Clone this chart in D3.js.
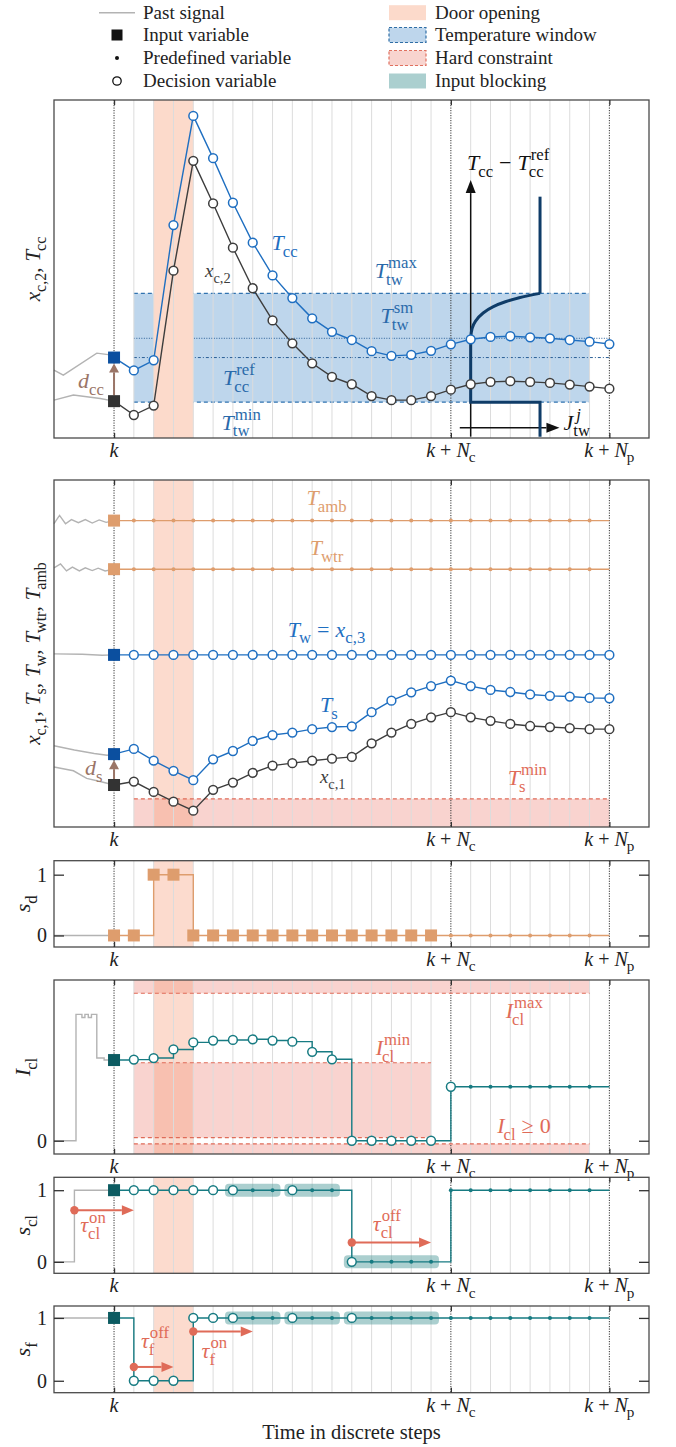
<!DOCTYPE html>
<html><head><meta charset="utf-8">
<script src="https://cdn.jsdelivr.net/npm/d3@7"></script>
<style>
body{margin:0;background:#fff;}
svg{display:block;}
text{font-family:"Liberation Serif","DejaVu Serif",serif;}
</style></head><body>
<svg id="c" width="676" height="1447"></svg>
<script>
// ================= DATA =================
const steps = d3.range(0, 26);
const xTickSteps = [0, 17, 25];           // k, k+Nc, k+Np
const gridSteps = d3.range(1, 25).filter(s => s !== 17);
const doorSteps = [2, 4];

// panel 1 : x_c2 , T_cc
const tccValues = [23.8,20.0,23.0,63.0,95.3,82.8,69.6,57.8,48.1,41.4,35.4,31.4,29.0,25.7,24.3,24.6,25.8,27.7,29.2,29.9,30.1,29.8,29.5,29.0,28.5,27.8];
const xc2Values = [10.9,6.8,9.6,49.5,82.0,69.4,56.3,44.3,34.8,28.0,22.1,18.1,15.9,12.4,11.2,11.2,12.4,14.3,15.9,16.6,16.8,16.6,16.3,15.8,15.2,14.6];
const tccPast = [[-3.03,20.1],[-2.56,18.6],[-0.87,25.1],[-0.2,24.6],[0,23.8]];
const xc2Past = [[-3.03,11.2],[-2.05,12.7],[-0.7,11.7],[0,10.9]];
const twMax = 42.8, twMin = 10.6, twSm = 29.5, ccRef = 23.8;
const windowSteps = [1, 24];
const refLineSteps = [1, 25];
// penalty inset J_tw (J in [0,1], value in panel-1 units)
const jtwLow = [[1,0.4],[1,10.6],[0,10.6],[0,29.5]];
const jtwCurve = [[0,29.5],[0.02,32.4],[0.07,34.6],[0.18,37.0],[0.32,38.8],[0.5,40.3],[0.7,41.5],[1,42.8]];
const jtwHigh = [[1,42.8],[1,71.4]];

// panel 2
const tambValue = 88.3, twtrValue = 74.3, twValue = 49.6;
const tsValues  = [21.0,22.5,19.1,16.2,13.5,19.5,21.9,24.8,26.5,27.2,28.2,28.8,29.0,33.1,36.4,38.8,40.6,42.2,40.6,39.5,38.9,38.2,37.8,37.6,37.2,37.1];
const xc1Values = [12.1,13.1,10.1,7.3,4.7,10.7,12.8,15.6,17.7,18.4,19.1,19.7,20.2,24.1,27.2,29.7,31.6,33.1,31.6,30.6,29.7,29.1,28.8,28.5,28.2,28.2];
const tambPast = [[-3.03,87.4],[-2.75,89.8],[-2.45,87.4],[-2.15,88.6],[-1.8,87.7],[-1.45,88.6],[-1.1,87.6],[-0.75,88.5],[-0.4,87.8],[0,88.3]];
const twtrPast = [[-3.03,74.7],[-2.7,75.8],[-2.4,73.8],[-2.1,74.9],[-1.75,73.8],[-1.45,74.7],[-1.1,73.9],[-0.8,74.6],[-0.45,73.8],[0,74.3]];
const twPast = [[-3.03,49.9],[-1.6,49.8],[-0.6,49.5],[0,49.6]];
const tsPast = [[-3.03,23.4],[-2.0,22.2],[-1.0,21.2],[-0.35,20.7],[0,21.0]];
const xc1Past = [[-3.03,17.3],[-2.05,16.2],[-1.38,14.0],[-0.7,13.1],[0,12.1]];
const tsMin = 8.1;
const tsMinSteps = [1, 25];

// panel 3 : s_d
const sdValues = [0,0,1,1,0,0,0,0,0,0,0,0,0,0,0,0,0,0,0,0,0,0,0,0,0,0];
const sdPast = [[-3.03,0],[0,0]];

// panel 4 : I_cl
const iclValues = [5.17,5.2,5.3,5.85,6.3,6.42,6.46,6.5,6.42,6.35,5.7,5.22,0,0,0,0,0,3.46,3.46,3.46,3.46,3.46,3.46,3.46,3.46,3.46];
const iclPast = [[-3.03,0],[-1.92,8.1],[-1.62,7.9],[-1.47,8.1],[-1.3,7.9],[-1.14,8.1],[-0.87,5.3],[-0.5,5.17],[0,5.17]];
const iclMax = 9.45, iclMin = 5.0, iclGap = 0.2;
const iclMaxSteps = [1, 24], iclMinSteps = [1, 16];

// panel 5 : s_cl
const sclValues = [1,1,1,1,1,1,1,1,1,1,1,1,0,0,0,0,0,1,1,1,1,1,1,1,1,1];
const sclPast = [[-3.03,0],[-2,1],[0,1]];
const sclBlocks = [[6,8,1],[9,11,1],[12,16,0]];
const sclArrows = [[-2,1,0.72],[12,16,0.27]];

// panel 6 : s_f
const sfValues = [1,0,0,0,1,1,1,1,1,1,1,1,1,1,1,1,1,1,1,1,1,1,1,1,1,1];
const sfPast = [[-3.03,1],[0,1]];
const sfBlocks = [[6,8,1],[9,11,1],[12,16,1]];
const sfArrows = [[1,3,0.22],[4,7,0.785]];

// marker kinds per step: S input square, C decision circle, D predefined dot, - none
const mkDecision = "S" + "C".repeat(25);
const mkPredef   = "S" + "D".repeat(24) + "-";
const mkSd       = "S".repeat(17) + "D".repeat(8) + "-";
const mkIcl      = "S" + "C".repeat(17) + "D".repeat(7) + "-";
const mkSwitch   = "SCCCCCCDDCDDCDDDDDDDDDDDD-";

// ================= STYLE =================
const C = {
  blue:'#1f6fc1', blueSq:'#0b4f9f', dark:'#3d3d3d', darkSq:'#333333',
  orange:'#de9d6d', teal:'#177b82', tealSq:'#0c5b61', red:'#df6b58',
  brown:'#9a7567', gray:'#b3b3b3', navy:'#0f3c68', frame:'#4a4a4a', lblue:'#2a6aaa'
};
const svg = d3.select('#c');
const x = d3.scaleLinear().domain([-3.03, 27]).range([54, 649]);

const panelDefs = [
  {top:100,   bottom:438,    dom:[0,100]},
  {top:480,   bottom:827,    dom:[0,100]},
  {top:860.7, bottom:947,    dom:[-0.19,1.23]},
  {top:980,   bottom:1154,   dom:[-0.85,10.3]},
  {top:1177.3,bottom:1273.3, dom:[-0.16,1.18]},
  {top:1306,  bottom:1392.7, dom:[-0.19,1.19]}
];
const P = panelDefs.map(d => Object.assign({}, d, {y: d3.scaleLinear().domain(d.dom).range([d.bottom, d.top])}));

// ---------- math text helper ----------
function mtext(parent, px, py, tokens, o = {}) {
  const size = o.size || 22, color = o.color || '#222';
  const subDy = o.subDy !== undefined ? o.subDy : 0.3;
  const g = parent.append('g');
  const inner = g.append('g');
  let cx = 0;
  for (let tk of tokens) {
    if (typeof tk === 'string') tk = {t: tk};
    if (tk.t !== undefined) {
      const e = inner.append('text').attr('x', cx).attr('y', 0).attr('font-size', size)
        .attr('fill', color).attr('font-style', tk.i ? 'italic' : 'normal').text(tk.t);
      cx += e.node().getComputedTextLength() + (tk.k || 0);
    } else {
      let w = 0; const ss = size * 0.76;
      if (tk.p !== undefined) {
        const e = inner.append('text').attr('x', cx + (tk.pk || 0)).attr('y', -size * 0.44)
          .attr('font-size', ss).attr('fill', color).attr('font-style', tk.pi ? 'italic' : 'normal').text(tk.p);
        w = Math.max(w, e.node().getComputedTextLength() + (tk.pk || 0));
      }
      if (tk.b !== undefined) {
        const e = inner.append('text').attr('x', cx).attr('y', size * subDy)
          .attr('font-size', ss).attr('fill', color).text(tk.b);
        w = Math.max(w, e.node().getComputedTextLength());
      }
      cx += w + (tk.k || 0);
    }
  }
  let dx = 0;
  if (o.anchor === 'middle') dx = -cx / 2; else if (o.anchor === 'end') dx = -cx;
  inner.attr('transform', `translate(${dx},0)`);
  g.attr('transform', `translate(${px},${py})` + (o.rotate ? ` rotate(${o.rotate})` : ''));
  return g;
}

// ---------- drawing helpers ----------
function lineAt(g, p, v, s0, s1, color, dash, w) {
  g.append('line').attr('x1', x(s0)).attr('x2', x(s1)).attr('y1', p.y(v)).attr('y2', p.y(v))
    .attr('stroke', color).attr('stroke-width', w || 1.1).attr('stroke-dasharray', dash);
}
function rectBetween(g, p, s0, s1, v0, v1, fill) {
  const ya = p.y(v0), yb = p.y(v1);
  g.append('rect').attr('x', x(s0)).attr('width', x(s1) - x(s0))
    .attr('y', Math.min(ya, yb)).attr('height', Math.abs(yb - ya)).attr('fill', fill);
}
function doorBand(g, p, fill) {
  rectBetween(g, p, doorSteps[0], doorSteps[1], p.dom[0], p.dom[1], fill);
}
function gridAndMarkers(g, p) {
  g.selectAll('line.grid').data(gridSteps).join('line').attr('class', 'grid')
    .attr('x1', d => x(d)).attr('x2', d => x(d)).attr('y1', p.top).attr('y2', p.bottom)
    .attr('stroke', '#dcdcdc').attr('stroke-width', 1);
  g.selectAll('line.mk').data(xTickSteps).join('line').attr('class', 'mk')
    .attr('x1', d => x(d)).attr('x2', d => x(d)).attr('y1', p.top).attr('y2', p.bottom)
    .attr('stroke', '#333').attr('stroke-width', 1).attr('stroke-dasharray', '1.2,1.3');
}
function pastLine(g, p, pts, curve) {
  g.append('path').datum(pts)
    .attr('d', d3.line().x(d => x(d[0])).y(d => p.y(d[1])).curve(curve || d3.curveLinear))
    .attr('fill', 'none').attr('stroke', C.gray).attr('stroke-width', 1.4);
}
function series(g, p, vals, kinds, color, sqColor, curve, lw) {
  const pts = vals.map((v, i) => ({i, v, k: kinds[i]}));
  g.append('path').datum(pts)
    .attr('d', d3.line().x(d => x(d.i)).y(d => p.y(d.v)).curve(curve || d3.curveLinear))
    .attr('fill', 'none').attr('stroke', color).attr('stroke-width', lw || 1.4);
  g.selectAll(null).data(pts.filter(d => d.k === 'D')).join('circle')
    .attr('cx', d => x(d.i)).attr('cy', d => p.y(d.v)).attr('r', 2).attr('fill', color);
  g.selectAll(null).data(pts.filter(d => d.k === 'C')).join('circle')
    .attr('cx', d => x(d.i)).attr('cy', d => p.y(d.v)).attr('r', 4.4)
    .attr('fill', '#fff').attr('stroke', color).attr('stroke-width', 1.5);
  g.selectAll(null).data(pts.filter(d => d.k === 'S')).join('rect')
    .attr('x', d => x(d.i) - 6).attr('y', d => p.y(d.v) - 6).attr('width', 12).attr('height', 12)
    .attr('fill', sqColor);
}
function frameAndTicks(g, p, yTicks) {
  g.append('rect').attr('x', x.range()[0]).attr('y', p.top)
    .attr('width', x.range()[1] - x.range()[0]).attr('height', p.bottom - p.top)
    .attr('fill', 'none').attr('stroke', C.frame).attr('stroke-width', 1.3);
  const ab = g.append('g').attr('transform', `translate(0,${p.bottom})`)
    .call(d3.axisBottom(x).tickValues(xTickSteps).tickSize(-5).tickFormat(''));
  const at = g.append('g').attr('transform', `translate(0,${p.top})`)
    .call(d3.axisTop(x).tickValues(xTickSteps).tickSize(-5).tickFormat(''));
  [ab, at].forEach(a => { a.select('.domain').remove(); a.selectAll('line').attr('stroke', '#333').attr('stroke-width', 1.3); });
  if (yTicks) {
    const al = g.append('g').attr('transform', `translate(${x.range()[0]},0)`)
      .call(d3.axisLeft(p.y).tickValues(yTicks).tickSize(-10).tickPadding(7).tickFormat(d3.format('d')));
    const ar = g.append('g').attr('transform', `translate(${x.range()[1]},0)`)
      .call(d3.axisRight(p.y).tickValues(yTicks).tickSize(-10).tickFormat(''));
    [al, ar].forEach(a => { a.select('.domain').remove(); a.selectAll('line').attr('stroke', '#333').attr('stroke-width', 1.3); });
    al.selectAll('text').attr('font-size', 20).attr('fill', '#222')
      .attr('font-family', '"Liberation Serif","DejaVu Serif",serif');
  }
  const by = p.bottom + 19;
  const o = {size:20, anchor:'middle', subDy:0.26};
  mtext(g, x(xTickSteps[0]), by, [{t:'k', i:1}], o);
  mtext(g, x(xTickSteps[1]), by, [{t:'k', i:1, k:5}, {t:'+', k:5}, {t:'N', i:1, k:-1}, {b:'c'}], o);
  mtext(g, x(xTickSteps[2]), by, [{t:'k', i:1, k:5}, {t:'+', k:5}, {t:'N', i:1, k:-1}, {b:'p'}], o);
}
function arrowV(g, xx, y0, y1, color, w, hl, hw) {
  const dir = Math.sign(y1 - y0);
  g.append('line').attr('x1', xx).attr('x2', xx).attr('y1', y0).attr('y2', y1 - dir * hl)
    .attr('stroke', color).attr('stroke-width', w);
  g.append('path').attr('d', `M${xx},${y1} L${xx - hw},${y1 - dir * hl} L${xx + hw},${y1 - dir * hl} Z`).attr('fill', color);
}
function arrowH(g, x0, x1, yy, color, w, hl, hw) {
  g.append('line').attr('x1', x0).attr('x2', x1 - hl).attr('y1', yy).attr('y2', yy)
    .attr('stroke', color).attr('stroke-width', w);
  g.append('path').attr('d', `M${x1},${yy} L${x1 - hl},${yy - hw} L${x1 - hl},${yy + hw} Z`).attr('fill', color);
}
function blocks(g, p, bl) {
  g.selectAll(null).data(bl).join('rect')
    .attr('x', d => x(d[0] - 0.4)).attr('width', d => x(d[1] + 0.4) - x(d[0] - 0.4))
    .attr('y', d => p.y(d[2]) - 6.5).attr('height', 13).attr('rx', 4)
    .attr('fill', 'rgba(88,160,160,0.5)');
}
function tauArrows(g, p, arr) {
  arr.forEach(a => {
    arrowH(g, x(a[0]), x(a[1]), p.y(a[2]), C.red, 2, 12, 5);
    g.append('circle').attr('cx', x(a[0])).attr('cy', p.y(a[2])).attr('r', 4.2).attr('fill', C.red);
  });
}

const DOOR = 'rgba(246,160,125,0.38)';
const PINK = 'rgba(235,110,95,0.3)';

// ================= LEGEND =================
const leg = svg.append('g');
const legY = [12.7, 35, 58, 81];
leg.append('line').attr('x1', 99).attr('x2', 135).attr('y1', legY[0]).attr('y2', legY[0]).attr('stroke', C.gray).attr('stroke-width', 1.5);
leg.append('rect').attr('x', 111.5).attr('y', legY[1] - 5.5).attr('width', 11).attr('height', 11).attr('fill', '#111');
leg.append('circle').attr('cx', 117).attr('cy', legY[2]).attr('r', 2).attr('fill', '#111');
leg.append('circle').attr('cx', 117).attr('cy', legY[3]).attr('r', 4.2).attr('fill', '#fff').attr('stroke', '#111').attr('stroke-width', 1.3);
const legLeft = ['Past signal', 'Input variable', 'Predefined variable', 'Decision variable'];
const legRight = ['Door opening', 'Temperature window', 'Hard constraint', 'Input blocking'];
legLeft.forEach((t, i) => leg.append('text').attr('x', 143).attr('y', legY[i] + 6).attr('font-size', 19).attr('fill', '#222').text(t));
legRight.forEach((t, i) => leg.append('text').attr('x', 435).attr('y', legY[i] + 6).attr('font-size', 19).attr('fill', '#222').text(t));
const sw = [
  {fill:'#fcdacb', stroke:null},
  {fill:'#bed6ec', stroke:'#2f6ea6'},
  {fill:'#f8d4cf', stroke:'#e0705f'},
  {fill:'#abcfcf', stroke:null}
];
sw.forEach((s, i) => {
  const r = leg.append('rect').attr('x', 389).attr('y', legY[i] - 7.5).attr('width', 37).attr('height', 15).attr('fill', s.fill);
  if (s.stroke) r.attr('stroke', s.stroke).attr('stroke-width', 1.2).attr('stroke-dasharray', '3,2');
});

// ================= PANEL 1 =================
{
  const p = P[0], g = svg.append('g');
  rectBetween(g, p, windowSteps[0], windowSteps[1], twMin, twMax, 'rgba(120,170,215,0.48)');
  lineAt(g, p, twMax, windowSteps[0], windowSteps[1], '#3173b0', '4,3');
  lineAt(g, p, twMin, windowSteps[0], windowSteps[1], '#3173b0', '4,3');
  lineAt(g, p, twSm, refLineSteps[0], refLineSteps[1], '#2a5f96', '1,1.5', 1);
  lineAt(g, p, ccRef, refLineSteps[0], refLineSteps[1], '#2a5f96', '3,2,1,2', 1);
  doorBand(g, p, '#fcdacb');
  gridAndMarkers(g, p);
  // inset penalty
  const jx = d3.scaleLinear().domain([0, 1]).range([x(18), x(21.5)]);
  const ln = d3.line().x(d => jx(d[0])).y(d => p.y(d[1]));
  arrowV(g, jx(0), p.y(0.4), p.y(76.3), '#111', 1.5, 13, 5);
  arrowH(g, jx(-0.157), jx(1.28), p.y(3.05), '#111', 1.5, 13, 5);
  [jtwLow, jtwHigh].forEach(d => g.append('path').datum(d).attr('d', ln).attr('fill', 'none').attr('stroke', C.navy).attr('stroke-width', 3));
  g.append('path').datum(jtwCurve).attr('d', ln.curve(d3.curveMonotoneY)).attr('fill', 'none').attr('stroke', C.navy).attr('stroke-width', 3);
  mtext(g, jx(0.54), p.y(79.3), [{t:'T', i:1, k:-1}, {b:'cc', k:6}, {t:'−', k:6}, {t:'T', i:1, k:-1}, {b:'cc', p:'ref', pk:2}], {size:22, color:'#111', anchor:'middle'});
  mtext(g, jx(1.34), p.y(2.4), [{t:'J', i:1}, {b:'tw', p:'j', pi:1, pk:3}], {size:22, color:'#111'});
  // past + series
  pastLine(g, p, tccPast); pastLine(g, p, xc2Past);
  series(g, p, xc2Values, mkDecision, C.dark, C.darkSq);
  series(g, p, tccValues, mkDecision, C.blue, C.blueSq);
  arrowV(g, x(0), p.y(xc2Values[0]) - 6, p.y(tccValues[0]) + 6, C.brown, 2, 9, 5);
  // labels
  mtext(g, x(7.95), p.y(55.6), [{t:'T', i:1, k:-1}, {b:'cc'}], {color:C.blue});
  mtext(g, x(4.59), p.y(47.6), [{t:'x', i:1}, {b:'c,2'}], {color:C.dark, size:19});
  mtext(g, x(13.16), p.y(47.3), [{t:'T', i:1, k:-1}, {b:'tw', p:'max', pk:2}], {color:C.lblue});
  mtext(g, x(13.45), p.y(34.0), [{t:'T', i:1, k:-1}, {b:'tw', p:'sm', pk:2}], {color:C.lblue});
  mtext(g, x(5.5), p.y(15.7), [{t:'T', i:1, k:-1}, {b:'cc', p:'ref', pk:2}], {color:C.lblue});
  mtext(g, x(5.43), p.y(2.4), [{t:'T', i:1, k:-1}, {b:'tw', p:'min', pk:2}], {color:C.lblue});
  mtext(g, x(-1.82), p.y(14.8), [{t:'d', i:1}, {b:'cc'}], {color:C.brown});
  frameAndTicks(g, p, null);
  mtext(svg, 40, (p.top + p.bottom) / 2, [{t:'x', i:1}, {b:'c,2'}, {t:',', k:6}, {t:'T', i:1, k:-1}, {b:'cc'}], {rotate:-90, anchor:'middle', size:21});
}

// ================= PANEL 2 =================
{
  const p = P[1], g = svg.append('g');
  rectBetween(g, p, tsMinSteps[0], tsMinSteps[1], p.dom[0], tsMin, PINK);
  doorBand(g, p, DOOR);
  gridAndMarkers(g, p);
  lineAt(g, p, tsMin, tsMinSteps[0], tsMinSteps[1], C.red, '4,3');
  [tambPast, twtrPast, twPast, tsPast, xc1Past].forEach(d => pastLine(g, p, d));
  series(g, p, steps.map(() => tambValue), mkPredef, C.orange, C.orange);
  series(g, p, steps.map(() => twtrValue), mkPredef, C.orange, C.orange);
  series(g, p, steps.map(() => twValue), mkDecision, C.blue, C.blueSq);
  series(g, p, xc1Values, mkDecision, C.dark, C.darkSq);
  series(g, p, tsValues, mkDecision, C.blue, C.blueSq);
  arrowV(g, x(0), p.y(xc1Values[0]) - 6, p.y(tsValues[0]) + 6, C.brown, 2, 9, 5);
  mtext(g, x(9.72), p.y(92.8), [{t:'T', i:1, k:-1}, {b:'amb'}], {color:C.orange});
  mtext(g, x(9.88), p.y(78.4), [{t:'T', i:1, k:-1}, {b:'wtr'}], {color:C.orange});
  mtext(g, x(8.77), p.y(54.8), [{t:'T', i:1, k:-1}, {b:'w', k:6}, {t:'=', k:6}, {t:'x', i:1}, {b:'c,3'}], {color:C.blue});
  mtext(g, x(10.39), p.y(33.1), [{t:'T', i:1, k:-1}, {b:'s'}], {color:C.blue});
  mtext(g, x(10.39), p.y(12.7), [{t:'x', i:1}, {b:'c,1'}], {color:C.dark, size:19});
  mtext(g, x(-1.46), p.y(15.0), [{t:'d', i:1}, {b:'s'}], {color:C.brown});
  mtext(g, x(19.87), p.y(12.1), [{t:'T', i:1, k:-1}, {b:'s', p:'min', pk:2}], {color:C.red});
  frameAndTicks(g, p, null);
  mtext(svg, 40, (p.top + p.bottom) / 2, [{t:'x', i:1}, {b:'c,1'}, {t:',', k:6}, {t:'T', i:1, k:-1}, {b:'s'}, {t:',', k:6}, {t:'T', i:1, k:-1}, {b:'w'}, {t:',', k:6}, {t:'T', i:1, k:-1}, {b:'wtr'}, {t:',', k:6}, {t:'T', i:1, k:-1}, {b:'amb'}], {rotate:-90, anchor:'middle', size:21});
}

// ================= PANEL 3 =================
{
  const p = P[2], g = svg.append('g');
  doorBand(g, p, DOOR);
  gridAndMarkers(g, p);
  pastLine(g, p, sdPast, d3.curveStepAfter);
  series(g, p, sdValues, mkSd, C.orange, C.orange, d3.curveStepAfter);
  frameAndTicks(g, p, [0, 1]);
  mtext(svg, 30, (p.top + p.bottom) / 2, [{t:'s', i:1}, {b:'d'}], {rotate:-90, anchor:'middle', size:22});
}

// ================= PANEL 4 =================
{
  const p = P[3], g = svg.append('g');
  rectBetween(g, p, iclMaxSteps[0], iclMaxSteps[1], iclMax, p.dom[1], PINK);
  rectBetween(g, p, iclMinSteps[0], iclMinSteps[1], iclGap, iclMin, PINK);
  rectBetween(g, p, iclMaxSteps[0], iclMaxSteps[1], p.dom[0], -iclGap, PINK);
  doorBand(g, p, DOOR);
  gridAndMarkers(g, p);
  lineAt(g, p, iclMax, iclMaxSteps[0], iclMaxSteps[1], C.red, '4,3');
  lineAt(g, p, iclMin, iclMinSteps[0], iclMinSteps[1], C.red, '4,3');
  lineAt(g, p, iclGap, iclMinSteps[0], iclMinSteps[1], C.red, '4,3');
  lineAt(g, p, -iclGap, iclMaxSteps[0], iclMaxSteps[1], C.red, '4,3');
  pastLine(g, p, iclPast, d3.curveStepAfter);
  series(g, p, iclValues, mkIcl, C.teal, C.tealSq, d3.curveStepAfter);
  mtext(g, x(19.77), p.y(7.87), [{t:'I', i:1, k:-1}, {b:'cl', p:'max', pk:2}], {color:C.red});
  mtext(g, x(13.21), p.y(5.49), [{t:'I', i:1, k:-1}, {b:'cl', p:'min', pk:2}], {color:C.red});
  mtext(g, x(19.34), p.y(0.49), [{t:'I', i:1, k:-1}, {b:'cl', k:6}, {t:'≥', k:6}, {t:'0'}], {color:C.red});
  frameAndTicks(g, p, [0]);
  mtext(svg, 30, (p.top + p.bottom) / 2, [{t:'I', i:1, k:-1}, {b:'cl'}], {rotate:-90, anchor:'middle', size:22});
}

// ================= PANEL 5 =================
{
  const p = P[4], g = svg.append('g');
  doorBand(g, p, DOOR);
  gridAndMarkers(g, p);
  blocks(g, p, sclBlocks);
  pastLine(g, p, sclPast, d3.curveStepAfter);
  series(g, p, sclValues, mkSwitch, C.teal, C.tealSq, d3.curveStepAfter);
  tauArrows(g, p, sclArrows);
  mtext(g, x(-1.71), p.y(0.41), [{t:'τ', i:1}, {b:'cl', p:'on', pk:1}], {color:C.red});
  mtext(g, x(13.06), p.y(0.43), [{t:'τ', i:1}, {b:'cl', p:'off', pk:1}], {color:C.red});
  frameAndTicks(g, p, [0, 1]);
  mtext(svg, 30, (p.top + p.bottom) / 2, [{t:'s', i:1}, {b:'cl'}], {rotate:-90, anchor:'middle', size:22});
}

// ================= PANEL 6 =================
{
  const p = P[5], g = svg.append('g');
  doorBand(g, p, DOOR);
  gridAndMarkers(g, p);
  blocks(g, p, sfBlocks);
  pastLine(g, p, sfPast, d3.curveStepAfter);
  series(g, p, sfValues, mkSwitch, C.teal, C.tealSq, d3.curveStepAfter);
  tauArrows(g, p, sfArrows);
  mtext(g, x(1.36), p.y(0.52), [{t:'τ', i:1}, {b:'f', p:'off', pk:1}], {color:C.red});
  mtext(g, x(4.42), p.y(0.36), [{t:'τ', i:1}, {b:'f', p:'on', pk:1}], {color:C.red});
  frameAndTicks(g, p, [0, 1]);
  mtext(svg, 30, (p.top + p.bottom) / 2, [{t:'s', i:1}, {b:'f'}], {rotate:-90, anchor:'middle', size:22});
  svg.append('text').attr('x', (x.range()[0] + x.range()[1]) / 2).attr('y', 1439)
    .attr('text-anchor', 'middle').attr('font-size', 20.5).attr('fill', '#222').text('Time in discrete steps');
}
</script>
</body></html>
